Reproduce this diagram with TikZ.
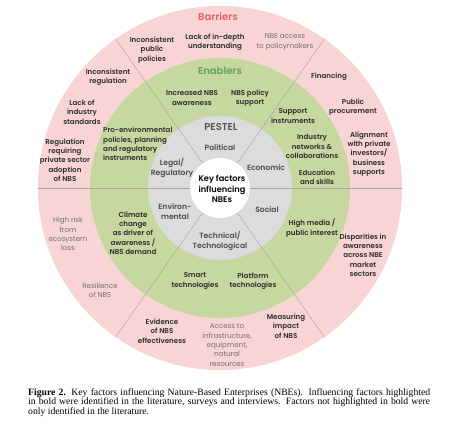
\documentclass[tikz,border=0pt]{standalone}
\usepackage{fontspec}
\setmainfont{Poppins}[BoldFont={Poppins SemiBold}]
\newfontfamily\capfont{Liberation Serif}
\definecolor{pinkc}{HTML}{F8D5D4}
\definecolor{greenc}{HTML}{C6D79F}
\definecolor{grayc}{HTML}{DCDCDC}
\definecolor{linec}{HTML}{A8A8A8}
\definecolor{txt}{HTML}{2E2E2E}
\definecolor{txtl}{HTML}{707070}
\definecolor{redh}{HTML}{E8605F}
\definecolor{greenh}{HTML}{5FA35A}
\definecolor{grayh}{HTML}{555555}
\tikzset{
  lab/.style={font=\fontsize{7.1}{9.3}\selectfont\bfseries, text=txt, align=center, inner sep=0pt},
  labl/.style={font=\fontsize{7.1}{9.3}\selectfont, text=txtl, align=center, inner sep=0pt},
  pest/.style={font=\fontsize{7.6}{10}\selectfont\bfseries, text=txt!85, align=center, inner sep=0pt},
  head/.style={font=\fontsize{10}{11}\selectfont\bfseries, inner sep=0pt},
  divline/.style={draw=linec, line width=0.5pt}
}
\begin{document}
\begin{tikzpicture}[x=1pt,y=1pt]
\useasboundingbox (-220,-255) rectangle (230,188);
\fill[white] (-220,-255) rectangle (230,188);
% rings
\fill[pinkc] (0,0) circle (182);
\fill[greenc] (0,0) circle (130);
\fill[grayc] (0,0) circle (72);
\foreach \a in {0,55,125,180,235,305} \draw[divline] (\a:30) -- (\a:182);
\fill[white] (0,0) circle (30);
% headings
\node[head, text=redh] (hbar) at (-2,171) {Barriers};
\node[head, text=greenh] (hen) at (0,117) {Enablers};
\node[head, text=grayh] (hpest) at (1,61) {PESTEL};
\node[font=\fontsize{8.2}{10.5}\selectfont\bfseries, text=black, align=center, inner sep=0pt] (key) at (2,-1) {Key factors\\influencing\\NBEs};
% PESTEL
\node[pest] (pol) at (0,40) {Political};
\node[pest] (leg) at (-48,20) {Legal/\\Regulatory};
\node[pest] (eco) at (46,20) {Economic};
\node[pest] (env) at (-45,-24) {Environ-\\mental};
\node[pest] (soc) at (47,-22) {Social};
\node[pest] (tec) at (0,-53) {Technical/\\Technological};
% Enablers
\node[lab] (e1) at (-28,90) {Increased NBS\\awareness};
\node[lab] (e2) at (30,90) {NBS policy\\support};
\node[lab, align=left, anchor=west] (e3) at (-117,44) {Pro-environmental\\policies, planning\\and regulatory\\instruments};
\node[lab] (e4) at (73,72) {Support\\instruments};
\node[lab] (e5) at (92,41.5) {Industry\\networks \&\\collaborations};
\node[lab] (e6) at (97,11) {Education\\and skills};
\node[lab] (e7) at (-87,-45) {Climate\\change\\as driver of\\awareness /\\NBS demand};
\node[lab] (e8) at (92,-40) {High media /\\public interest};
\node[lab] (e9) at (-25,-93) {Smart\\technologies};
\node[lab] (e10) at (33,-93) {Platform\\technologies};
% Barriers
\node[lab] (b1) at (-68,138) {Inconsistent\\public\\policies};
\node[lab] (b2) at (-5,146) {Lack of in-depth\\understanding};
\node[labl] (b3) at (65,146) {NBE access\\to policymakers};
\node[lab] (b4) at (-112,111) {Inconsistent\\regulation};
\node[lab] (b5) at (-138,76) {Lack of\\industry\\standards};
\node[lab] (b6) at (-155,28) {Regulation\\requiring\\private sector\\adoption\\of NBS};
\node[lab] (b7) at (109,111) {Financing};
\node[lab] (b8) at (133,81) {Public\\procurement};
\node[lab] (b9) at (149,34) {Alignment\\with private\\investors/\\business\\supports};
\node[labl] (b10) at (-152,-46) {High risk\\from\\ecosystem\\loss};
\node[labl] (b11) at (-120,-102) {Resilience\\of NBS};
\node[lab] (b12) at (-58,-143) {Evidence\\of NBS\\effectiveness};
\node[labl] (b13) at (7,-157) {Access to\\infrastructure,\\equipment,\\natural\\resources};
\node[lab] (b14) at (66,-138) {Measuring\\impact\\of NBS};
\node[lab] (b15) at (143,-67) {Disparities in\\awareness\\across NBE\\market\\sectors};
% caption
\node[anchor=north west, inner sep=0pt, text width=402pt, align=justify,
      font=\capfont\fontsize{9.7}{9.6}\selectfont, text=black] (cap) at (-192,-200)
{\textbf{Figure 2.} Key factors influencing Nature-Based Enterprises (NBEs). Influencing factors highlighted\linebreak
in bold were identified in the literature, surveys and interviews. Factors not highlighted in bold were\linebreak
only identified in the literature.};
\end{tikzpicture}
\end{document}
